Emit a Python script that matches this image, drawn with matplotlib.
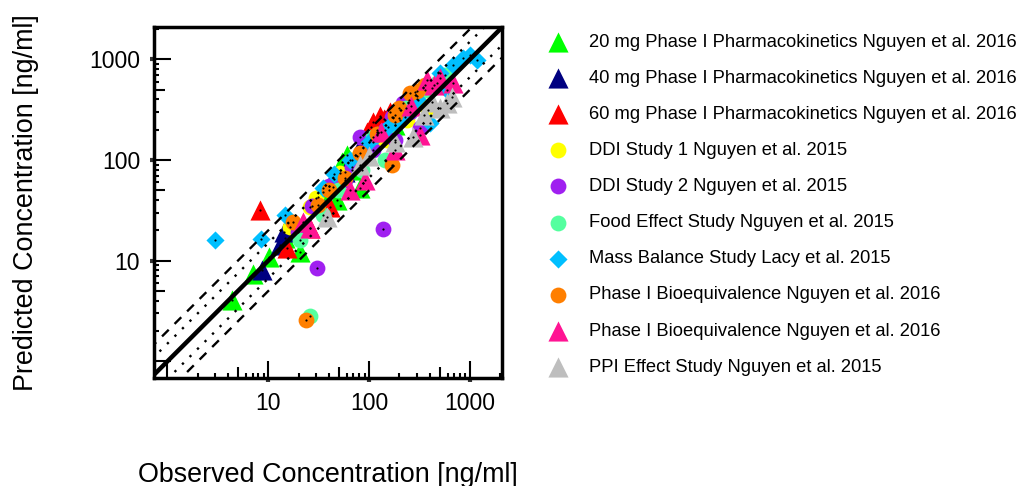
import numpy as np
import matplotlib
matplotlib.use("Agg")
import matplotlib.pyplot as plt
from matplotlib.ticker import FixedLocator, FixedFormatter, NullFormatter

plt.rcParams['font.family'] = ['Liberation Sans', 'DejaVu Sans']

# observed / predicted pairs (ng/ml)
pk20_obs = [4.4, 7.1, 10.2, 20.7, 14.7, 48, 54, 60, 82, 68, 181, 35, 45, 120]
pk20_pred = [4.1, 7.4, 10.9, 12.3, 16.9, 40, 95, 112, 53, 80, 222, 48, 65, 190]

pk40_obs = [8.7, 13.2, 14.4, 31, 58, 85, 144, 40, 120, 75]
pk40_pred = [8.1, 14.4, 19.4, 43, 76, 147, 249, 55, 200, 110]

pk60_obs = [8.3, 15.4, 26, 41, 95, 110, 128, 161, 105, 140]
pk60_pred = [32, 13.5, 21, 34, 189, 238, 273, 299, 215, 255]

ddi1_obs = [16.5, 26, 52, 68, 151, 238, 384, 305, 30, 200, 110]
ddi1_pred = [21.7, 34, 74, 100, 158, 249, 313, 393, 42, 260, 150]

ddi2_obs = [138, 30.5, 19.8, 27, 44, 68, 82, 110, 203, 217, 320, 144, 181, 255, 58, 40, 100, 170, 250]
ddi2_pred = [20.7, 8.5, 19.4, 35, 54, 85, 169, 126, 249, 367, 207, 198, 158, 299, 63, 55, 150, 270, 390]

food_obs = [26, 20.7, 35, 49, 85, 144, 181, 285, 358, 471, 565, 110, 230, 420, 300]
food_pred = [2.85, 16.1, 28.5, 50.5, 80, 100, 222, 471, 493, 578, 695, 170, 330, 520, 430]

mass_obs = [3.0, 8.5, 14.7, 35, 65, 120, 154, 227, 402, 592, 505, 679, 853, 1172, 1000, 100, 180, 300, 45]
mass_pred = [16.1, 16.5, 28.5, 53, 100, 177, 212, 267, 232, 493, 727, 873, 1023, 977, 1096, 150, 240, 400, 72]

be1_obs = [23.8, 17.7, 31, 58, 82, 169, 255, 358, 181, 40, 120, 200, 300]
be1_pred = [2.6, 24.3, 36, 66, 117, 89, 460, 553, 279, 50, 180, 330, 480]

be2_obs = [22.2, 26, 65, 91, 181, 320, 375, 679, 505, 130, 260, 440]
be2_pred = [24.3, 21, 50.5, 63, 126, 177, 620, 578, 649, 190, 340, 560]

ppi_obs = [38, 82, 181, 273, 592, 664, 505, 100, 420, 350]
ppi_pred = [27, 89, 151, 169, 367, 421, 327, 110, 380, 280]

series = [
    ("20 mg Phase I Pharmacokinetics Nguyen et al. 2016", pk20_obs, pk20_pred, "#00FF00", "^"),
    ("40 mg Phase I Pharmacokinetics Nguyen et al. 2016", pk40_obs, pk40_pred, "#000080", "^"),
    ("60 mg Phase I Pharmacokinetics Nguyen et al. 2016", pk60_obs, pk60_pred, "#FF0000", "^"),
    ("DDI Study 1 Nguyen et al. 2015", ddi1_obs, ddi1_pred, "#FFFF00", "o"),
    ("DDI Study 2 Nguyen et al. 2015", ddi2_obs, ddi2_pred, "#A020F0", "o"),
    ("Food Effect Study Nguyen et al. 2015", food_obs, food_pred, "#54FF9F", "o"),
    ("Mass Balance Study Lacy et al. 2015", mass_obs, mass_pred, "#00BFFF", "D"),
    ("Phase I Bioequivalence Nguyen et al. 2016", be1_obs, be1_pred, "#FF7F00", "o"),
    ("Phase I Bioequivalence Nguyen et al. 2016", be2_obs, be2_pred, "#FF1493", "^"),
    ("PPI Effect Study Nguyen et al. 2015", ppi_obs, ppi_pred, "#BEBEBE", "^"),
]
sizes = {"^": 210, "o": 130, "D": 85}

xlim = (0.738, 2075)
ylim = (0.689, 2108)

fig = plt.figure(figsize=(10.16, 4.86), dpi=100)
ax = fig.add_axes([0.1516, 0.2228, 0.3425, 0.7223])
ax.set_xscale('log')
ax.set_yscale('log')

for label, obs, pred, col, mk in series:
    ax.scatter(obs, pred, s=sizes[mk], c=col, marker=mk, linewidths=0, label=label, zorder=2)
    ax.scatter(obs, pred, s=2.5, c='k', linewidths=0, zorder=3)

# identity line with 1.5-fold and 2-fold bands
ref = np.array([0.5, 5000])
ax.plot(ref, ref, color='k', lw=3.2, zorder=5)
for f in (1.5, 1 / 1.5):
    ax.plot(ref, ref * f, color='k', lw=1.7, ls=(0, (1, 3.5)), zorder=4)
for f in (2, 0.5):
    ax.plot(ref, ref * f, color='k', lw=1.7, ls=(0, (4, 3.5)), zorder=4)

ax.set_xlim(*xlim)
ax.set_ylim(*ylim)

for s in ax.spines.values():
    s.set_linewidth(2.5)

# labelled ticks (tiny outward marks) + short inward minor ticks
decades = [10, 100, 1000]
minors = [m * d for d in [1, 10, 100, 1000] for m in (2, 3, 4, 6, 7, 8, 9)]
for axis in (ax.xaxis, ax.yaxis):
    axis.set_major_locator(FixedLocator(decades))
    axis.set_major_formatter(FixedFormatter([str(d) for d in decades]))
    axis.set_minor_locator(FixedLocator(minors))
    axis.set_minor_formatter(NullFormatter())
ax.tick_params(which='major', direction='out', length=3, width=3, color='#333333',
               labelsize=16.5, pad=7)
ax.tick_params(which='minor', direction='in', length=3.8, width=1.5)

# long inward ticks at decades, medium at the 5s
for sec, orient in ((ax.secondary_xaxis('bottom'), 'x'), (ax.secondary_yaxis('left'), 'y')):
    for s in sec.spines.values():
        s.set_visible(False)
    sec_axis = sec.xaxis if orient == 'x' else sec.yaxis
    sec_axis.set_major_locator(FixedLocator([1, 10, 100, 1000]))
    sec_axis.set_major_formatter(NullFormatter())
    sec_axis.set_minor_locator(FixedLocator([5, 50, 500]))
    sec_axis.set_minor_formatter(NullFormatter())
    sec.tick_params(which='major', direction='in', length=12.5, width=1.5)
    sec.tick_params(which='minor', direction='in', length=8, width=1.5)

ax.set_xlabel("Observed Concentration [ng/ml]", fontsize=19.4)
ax.set_ylabel("Predicted Concentration [ng/ml]", fontsize=19.4)
ax.xaxis.set_label_coords(0.5, -0.24)
ax.yaxis.set_label_coords(-0.33, 0.5)

fig.legend(loc='upper left', bbox_to_anchor=(549 / 1016, 0.93), frameon=False,
           fontsize=13.2, handlelength=1.0, handletextpad=1.19, labelspacing=1.04,
           borderpad=0, borderaxespad=0, scatterpoints=1)

fig.savefig("out.png", dpi=100)
